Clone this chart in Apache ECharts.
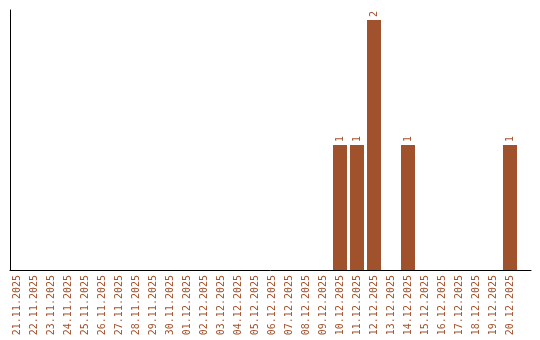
<!DOCTYPE html>
<html><head><meta charset="utf-8">
<script src="https://cdn.jsdelivr.net/npm/echarts@6/dist/echarts.min.js"></script>
<style>html,body{margin:0;padding:0;background:#fff}#c{width:540px;height:340px}</style>
</head><body><div id="c"></div>
<script>
const categories = ["21.11.2025","22.11.2025","23.11.2025","24.11.2025","25.11.2025","26.11.2025","27.11.2025","28.11.2025","29.11.2025","30.11.2025","01.12.2025","02.12.2025","03.12.2025","04.12.2025","05.12.2025","06.12.2025","07.12.2025","08.12.2025","09.12.2025","10.12.2025","11.12.2025","12.12.2025","13.12.2025","14.12.2025","15.12.2025","16.12.2025","17.12.2025","18.12.2025","19.12.2025","20.12.2025"];
const counts = [0,0,0,0,0,0,0,0,0,0,0,0,0,0,0,0,0,0,0,1,1,2,0,1,0,0,0,0,0,1];

const brown = '#a0522d';
const font = 'DejaVu Sans Mono';
const chart = echarts.init(document.getElementById('c'));
chart.setOption({
  animation: false,
  backgroundColor: '#fff',
  grid: [
    {left: 8.5, top: 10, width: 510, height: 260},
    {left: 10, top: 10, right: 9, height: 260}
  ],
  xAxis: [
    {type: 'category', gridIndex: 0, data: categories,
     axisLine: {show: false}, axisTick: {show: false},
     axisLabel: {rotate: 90, interval: 0, margin: 5, color: brown, fontFamily: font, fontSize: 10}},
    {type: 'value', gridIndex: 1, min: 0, max: 1,
     axisLine: {show: true, onZero: false, lineStyle: {color: '#000', width: 1}},
     axisTick: {show: false}, axisLabel: {show: false}, splitLine: {show: false}}
  ],
  yAxis: [
    {type: 'value', gridIndex: 0, min: 0, max: 2.08,
     axisLine: {show: false}, axisTick: {show: false}, axisLabel: {show: false}, splitLine: {show: false}},
    {type: 'value', gridIndex: 1, min: 0, max: 1,
     axisLine: {show: true, lineStyle: {color: '#000', width: 1}},
     axisTick: {show: false}, axisLabel: {show: false}, splitLine: {show: false}}
  ],
  series: [{
    type: 'bar', xAxisIndex: 0, yAxisIndex: 0,
    data: counts.map(v => v === 0 ? null : v),
    barWidth: 14,
    itemStyle: {color: brown},
    label: {show: true, position: 'top', rotate: 90, distance: 3,
            align: 'left', verticalAlign: 'middle',
            color: brown, fontFamily: font, fontSize: 10}
  }]
});
</script></body></html>
